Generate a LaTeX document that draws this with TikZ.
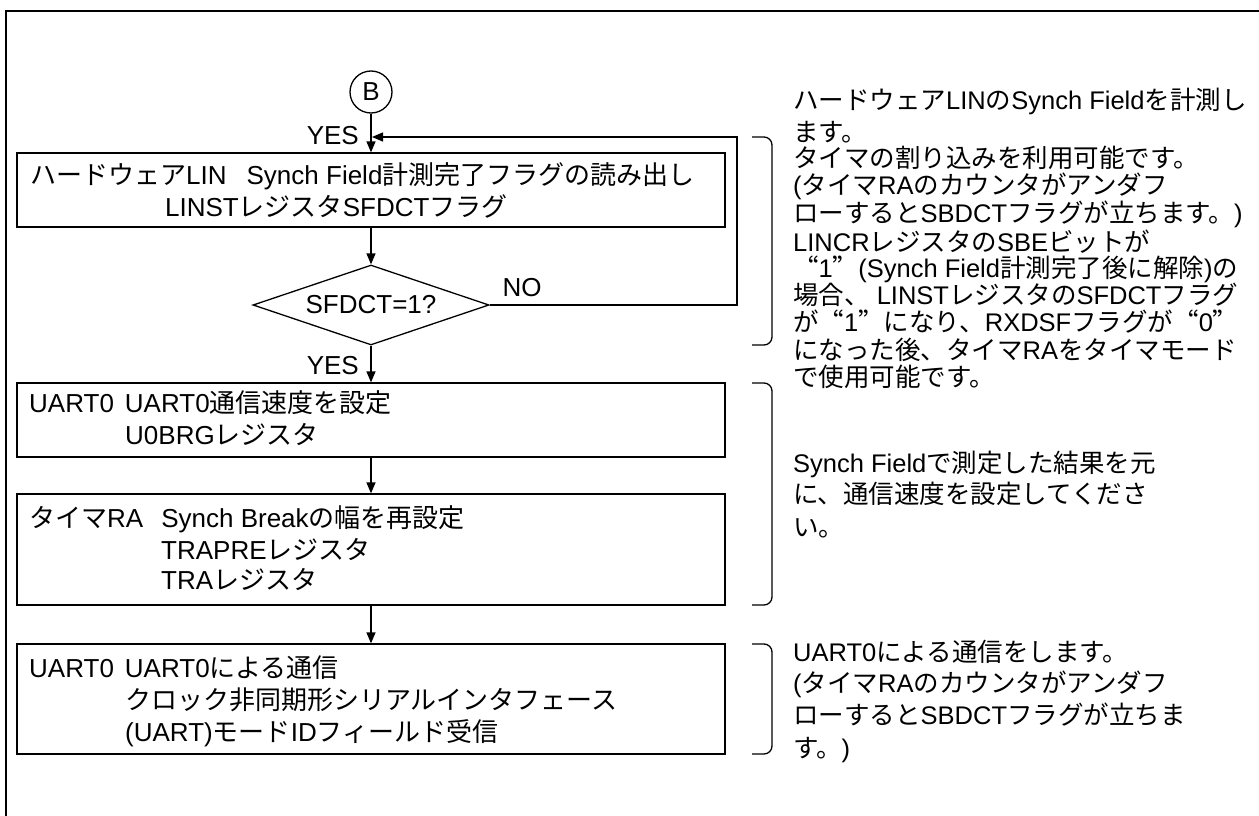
\documentclass[tikz,border=0pt]{standalone}
\usepackage{fontspec}
\setmainfont{Liberation Sans}
\newfontfamily\cjkfont[RawFeature={+fwid}]{Noto Sans CJK JP}
\usetikzlibrary{shapes.geometric,arrows.meta}
% automatic switch to the CJK font for Japanese characters
\XeTeXinterchartokenstate=1
\newXeTeXintercharclass\cjkclass
\newcount\cjkcnt
\def\setcjkrange#1#2{\cjkcnt=#1\relax\loop\XeTeXcharclass\cjkcnt=\cjkclass\relax\ifnum\cjkcnt<#2\relax\advance\cjkcnt by 1\relax\repeat}
\setcjkrange{"3000}{"30FF}
\setcjkrange{"4E00}{"9FFF}
\setcjkrange{"FF00}{"FFEF}
\XeTeXcharclass"201C=\cjkclass
\XeTeXcharclass"201D=\cjkclass
\XeTeXinterchartoks 0 \cjkclass = {\cjkfont}
\XeTeXinterchartoks 4095 \cjkclass = {\cjkfont}
\XeTeXinterchartoks \cjkclass 0 = {\normalfont}
\XeTeXinterchartoks \cjkclass 4095 = {\normalfont}
\begin{document}
\begin{tikzpicture}[x=1pt,y=-1pt,
  every node/.style={inner sep=0pt},
  box/.style={draw, line width=1.3pt, rectangle, minimum width=708pt},
  dec/.style={draw, diamond, line width=1.3pt, minimum width=236pt, minimum height=80pt, aspect=2.95, font=\fontsize{26pt}{30pt}\selectfont},
  conn/.style={circle, draw, line width=1.3pt, minimum size=42pt, font=\fontsize{26pt}{30pt}\selectfont},
  arr/.style={line width=1.3pt, -{Triangle[length=11pt,width=9pt]}},
  btxt/.style={anchor=base west, font=\fontsize{26pt}{30pt}\selectfont},
  ntxt/.style={anchor=base west, font=\fontsize{25.5pt}{30pt}\selectfont},
  lbl/.style={anchor=base east, font=\fontsize{26pt}{30pt}\selectfont},
  brk/.style={line width=1.3pt, rounded corners=8pt},
]
\useasboundingbox (0,0) rectangle (1259,816);
\fill[white] (0,0) rectangle (1259,816);
% frame
\draw[line width=2.5pt] (6,816) -- (6,11) -- (1259,11);

% flow nodes
\node[conn] (B) at (371,92) {B};
\node[box, minimum height=74pt] (b1) at (371,190) {};
\node[dec] (dec) at (371,305) {SFDCT=1?};
\node[box, minimum height=74pt] (b2) at (371,420) {};
\node[box, minimum height=111pt] (b3) at (371,549.5) {};
\node[box, minimum height=110pt] (b4) at (371,699) {};

% box texts
\node[btxt] (t11) at (30,184.5) {ハードウェアLIN\hspace{20pt}Synch Field計測完了フラグの読み出し};
\node[btxt] (t12) at (165,216.5) {LINSTレジスタSFDCTフラグ};
\node[btxt] (t21) at (29,412.5) {UART0\hspace{11pt}UART0通信速度を設定};
\node[btxt] (t22) at (125,444.5) {U0BRGレジスタ};
\node[btxt] (t31) at (29,527.5) {タイマRA\hspace{18pt}Synch Breakの幅を再設定};
\node[btxt] (t32) at (161,559.5) {TRAPREレジスタ};
\node[btxt] (t33) at (161,589.5) {TRAレジスタ};
\node[btxt] (t41) at (29,677.5) {UART0\hspace{11pt}UART0による通信};
\node[btxt] (t42) at (125,709.5) {クロック非同期形シリアルインタフェース};
\node[btxt] (t43) at (125,741.5) {(UART)モードIDフィールド受信};

% labels
\node[lbl] (yes1) at (359,144) {YES};
\node[lbl] (yes2) at (359,374.5) {YES};
\node[anchor=base, font=\fontsize{26pt}{30pt}\selectfont] (no) at (522,296.5) {NO};

% connectors
\coordinate (lp) at (737,137);
\coordinate (lin) at (372,137);
\draw[arr] (B) -- (b1);
\draw[arr] (b1) -- (dec);
\draw[arr] (dec) -- (b2);
\draw[arr] (b2) -- (b3);
\draw[arr] (b3) -- (b4);
\draw[arr] (dec.east) -| (lp) -- (lin);

% brackets
\draw[brk] (752,137) -- (772,137) -- (772,345) -- (752,345);
\draw[brk] (752,383) -- (772,383) -- (772,605) -- (752,605);
\draw[brk] (752,644) -- (772,644) -- (772,754) -- (752,754);

% notes
\node[ntxt] (n1) at (793,109.5) {ハードウェアLINのSynch Fieldを計測し};
\node[ntxt] (n2) at (793,141.5) {ます。};
\node[ntxt] (n3) at (793,167.5) {タイマの割り込みを利用可能です。};
\node[ntxt] (n4) at (793,194.5) {(タイマRAのカウンタがアンダフ};
\node[ntxt] (n5) at (793,222.5) {ローするとSBDCTフラグが立ちます。)};
\node[ntxt] (n6) at (793,251.5) {LINCRレジスタのSBEビットが};
\node[ntxt] (n7) at (793,277.5) {“1”(Synch Field計測完了後に解除)の};
\node[ntxt] (n8) at (793,304.5) {場合、 LINSTレジスタのSFDCTフラグ};
\node[ntxt] (n9) at (793,331.5) {が“1”になり、RXDSFフラグが“0”};
\node[ntxt] (n10) at (793,359.5) {になった後、タイマRAをタイマモード};
\node[ntxt] (n11) at (793,386.5) {で使用可能です。};

\node[ntxt] (m1) at (793,472.5) {Synch Fieldで測定した結果を元};
\node[ntxt] (m2) at (793,503.5) {に、通信速度を設定してくださ};
\node[ntxt] (m3) at (793,536.5) {い。};

\node[ntxt] (u1) at (793,661.5) {UART0による通信をします。};
\node[ntxt] (u2) at (793,692.5) {(タイマRAのカウンタがアンダフ};
\node[ntxt] (u3) at (793,724.5) {ローするとSBDCTフラグが立ちま};
\node[ntxt] (u4) at (793,757.5) {す。)};
\end{tikzpicture}
\end{document}
